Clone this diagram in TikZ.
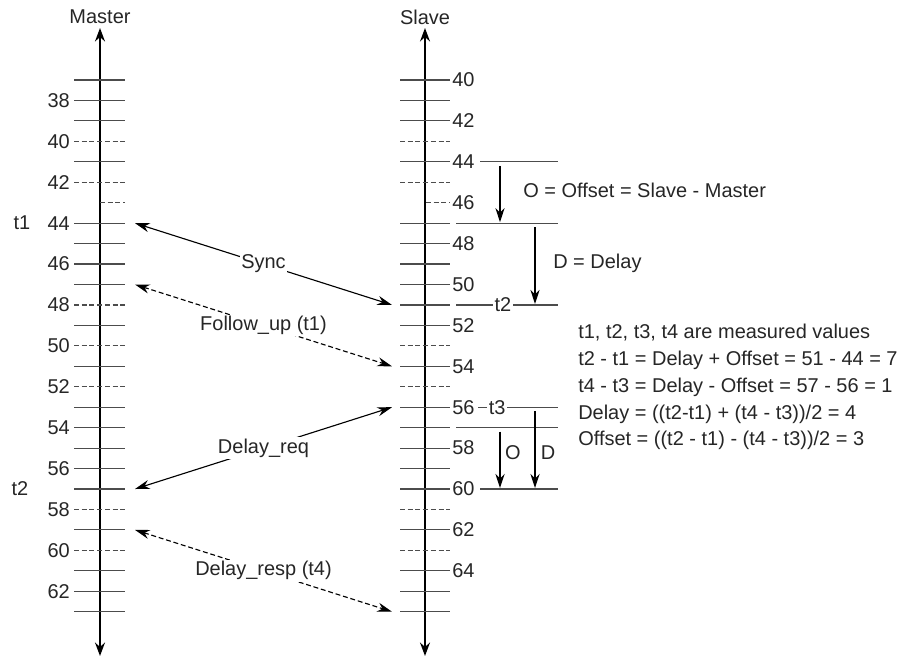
\documentclass[tikz,border=0pt]{standalone}
\usepackage{fontspec}
\setmainfont{Liberation Sans}
\usepackage{tikz}
\usetikzlibrary{arrows.meta, calc}
\usepackage{xcolor}
\definecolor{tick-gray}{gray}{.3}
\definecolor{text-gray}{gray}{.15}

\tikzset{
	axis/.style={line width=1.8pt, {Stealth[length=9.5pt,width=7pt]}-{Stealth[length=9.5pt,width=7pt]}},
	tickline/.style={line width=.8pt, tick-gray},
	dashtick/.style={tickline, dash pattern=on 3.5pt off 2pt},
	msg/.style={line width=.8pt, {Stealth[length=10.5pt,width=6.5pt]}-{Stealth[length=10.5pt,width=6.5pt]}},
	msgdash/.style={msg, dash pattern=on 3.5pt off 2pt},
	meas/.style={line width=.8pt, -{Stealth[length=10pt,width=6.5pt]}},
	lbl/.style={fill=white, inner sep=1pt},
}

\begin{document}
\begin{tikzpicture}[x=0.025cm, y=-0.025cm, every node/.style={font=\fontsize{14.2}{17}\selectfont, text=text-gray}]
	\useasboundingbox (0,0) rectangle (905,658);
	
	% the two time axes
	\node[] at (100,17) (master) {Master};
	\node[] at (425,17) (slave) {Slave};
	\coordinate (mtop) at (100,28);
	\coordinate (mbot) at (100,656);
	\coordinate (stop) at (425,28);
	\coordinate (sbot) at (425,656);
	\draw[axis] (mtop) -- (mbot);
	\draw[axis] (stop) -- (sbot);
	
	% master clock
	\foreach \k in {0,1,2,4,7,8,9,10,12,14,16,17,18,19,20,22,24,25,26}
		\draw[tickline] (74,80+20.45*\k) -- (125,80+20.45*\k);
	\foreach \k in {3,5,11,13,15,21,23}
		\draw[dashtick] (74,80+20.45*\k) -- (125,80+20.45*\k);
	\draw[dashtick] (100,80+20.45*6) -- (125,80+20.45*6);
	\foreach \k [evaluate=\k as \v using int(37+\k)] in {0,...,26}
		\coordinate (M\v) at (135,80+20.45*\k);
	\foreach \k [evaluate=\k as \v using int(37+\k)] in {1,3,...,25}
		\node[anchor=east, inner sep=0pt] at (70,80+20.45*\k) (ml\v) {\v};
	\node[] at (22,0 |- M44) (t1m) {t1};
	\node[] at (20,0 |- M57) (t2m) {t2};
	
	% slave clock
	\foreach \k in {0,1,2,4,7,8,9,10,11,12,14,16,17,18,19,20,22,24,25,26}
		\draw[tickline] (400,80+20.45*\k) -- (450,80+20.45*\k);
	\foreach \k in {3,5,13,15,21,23}
		\draw[dashtick] (400,80+20.45*\k) -- (450,80+20.45*\k);
	\draw[dashtick] (426,80+20.45*6) -- (450,80+20.45*6);
	\foreach \k [evaluate=\k as \v using int(40+\k)] in {0,...,26}
		\coordinate (S\v) at (392,80+20.45*\k);
	\foreach \k [evaluate=\k as \v using int(40+\k)] in {0,2,...,24}
		\node[anchor=west, inner sep=0pt] at (452,80+20.45*\k) (sl\v) {\v};
	
	% messages
	\draw[msg] (M44) -- node[lbl] (sync) {Sync} (S51);
	\draw[msgdash] (M47) -- node[lbl] (fup) {Follow\_up (t1)} (S54);
	\draw[msg] (M57) -- node[lbl] (dreq) {Delay\_req} (S56);
	\draw[msgdash] (M59) -- node[lbl] (dresp) {Delay\_resp (t4)} (S66);
	
	% offset and delay
	\draw[tickline] ($(S44)+(88,0)$) -- ($(S44)+(166,0)$);
	\draw[tickline] ($(S47)+(64,0)$) -- ($(S47)+(166,0)$);
	\draw[tickline] ($(S51)+(64,0)$) -- node[lbl, pos=.46] (t2s) {t2} ($(S51)+(166,0)$);
	\draw[tickline] ($(S56)+(86,0)$) -- node[lbl, pos=.24] (t3s) {t3} ($(S56)+(166,0)$);
	\draw[tickline] ($(S57)+(64,0)$) -- ($(S57)+(166,0)$);
	\draw[tickline] ($(S60)+(88,0)$) -- ($(S60)+(166,0)$);
	\draw[meas] ($(S44)+(108,4)$) -- ($(S47)+(108,-1)$);
	\draw[meas] ($(S47)+(143,4)$) -- ($(S51)+(143,-1)$);
	\draw[meas] ($(S57)+(108,4)$) -- ($(S60)+(108,-1)$);
	\draw[meas] ($(S56)+(143,4)$) -- ($(S60)+(143,-1)$);
	\node[anchor=west, inner sep=0pt] at (523,190) (odef) {O = Offset = Slave - Master};
	\node[anchor=west, inner sep=0pt] at (553,263) (ddef) {D = Delay};
	\node[] at (513,453) (olbl) {O};
	\node[] at (548,453) (dlbl) {D};
	
	% formulas
	\node[anchor=west, inner sep=0pt] at (578,333) (f1) {t1, t2, t3, t4 are measured values};
	\node[anchor=west, inner sep=0pt] at (578,360) (f2) {t2 - t1 = Delay + Offset = 51 - 44 = 7};
	\node[anchor=west, inner sep=0pt] at (578,387) (f3) {t4 - t3 = Delay - Offset = 57 - 56 = 1};
	\node[anchor=west, inner sep=0pt] at (578,414) (f4) {Delay = ((t2-t1) + (t4 - t3))/2 = 4};
	\node[anchor=west, inner sep=0pt] at (578,440) (f5) {Offset = ((t2 - t1) - (t4 - t3))/2 = 3};
\end{tikzpicture}
\end{document}
